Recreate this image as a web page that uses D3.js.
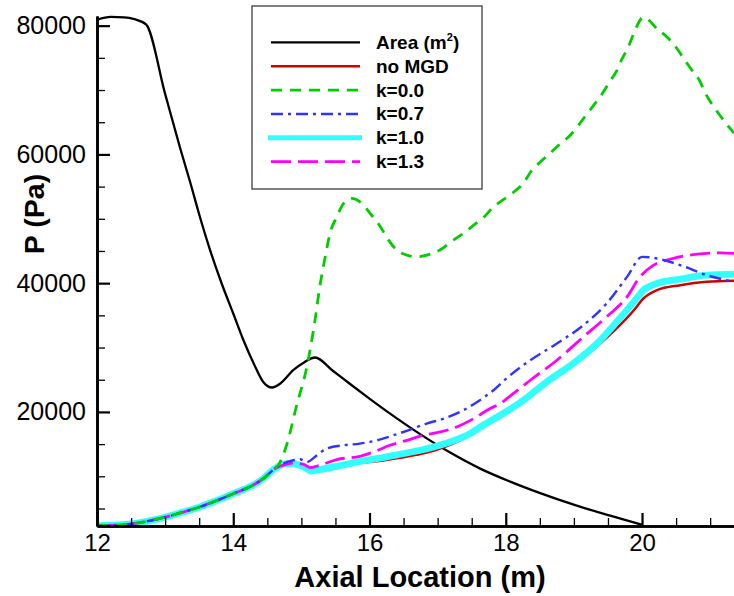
<!DOCTYPE html>
<html><head><meta charset="utf-8">
<script src="https://cdn.jsdelivr.net/npm/d3@7"></script>
<style>
body{margin:0;background:#fff;}
svg{display:block;font-family:"Liberation Sans",Arial,sans-serif;}
</style></head>
<body>
<svg id="chart" width="734" height="596"></svg>
<script>
// ---- data ----
const xTicks = [12, 14, 16, 18, 20];
const yTicks = [20000, 40000, 60000, 80000];
const xMinor = [12.5, 13, 13.5, 14.5, 15, 15.5, 16.5, 17, 17.5, 18.5, 19, 19.5, 20.5, 21];
const yMinor = [5000, 10000, 15000, 25000, 30000, 35000, 45000, 50000, 55000, 65000, 70000, 75000];

const areaX = [12.0, 12.2, 12.4, 12.55, 12.72, 13.0, 13.22, 13.37, 13.51, 13.66, 13.83, 14.0, 14.15, 14.3, 14.44, 14.57, 14.69, 14.88, 15.05, 15.2, 15.466, 15.715, 16.009, 16.302, 16.743, 17.184, 17.624, 18.065, 18.505, 19.019, 19.533, 20.0];
const areaY = [80900, 81350, 81300, 81000, 80200, 69400, 61000, 55600, 50310, 45130, 39950, 35290, 31140, 27520, 24660, 23790, 24410, 26480, 27770, 28450, 26355, 24335, 22000, 19740, 16555, 13680, 11190, 9170, 7380, 5515, 3880, 2480];

// shared inlet part of all pressure curves
const sharedX = [12.0, 12.25, 12.5, 12.75, 13.0, 13.25, 13.5, 13.75, 14.0, 14.25, 14.44, 14.61];
const sharedY = [2350, 2400, 2600, 3050, 3650, 4400, 5200, 6200, 7300, 8400, 9640, 11200];

const noMgdX = [14.79, 14.88, 14.98, 15.08, 15.13, 15.27, 15.52, 15.71, 15.96, 16.2, 16.45, 16.69, 16.94, 17.18, 17.43, 17.67, 17.92, 18.26, 18.6, 18.99, 19.34, 19.63, 19.88, 20.02, 20.22, 20.56, 20.95, 21.35];
const noMgdY = [11970, 11970, 11710, 11200, 10820, 11040, 11550, 11870, 12190, 12460, 12870, 13330, 13960, 14880, 16170, 17800, 19350, 21700, 24500, 27300, 30200, 33000, 35800, 37620, 38915, 39690, 40210, 40360];

const k00X = [14.66, 14.79, 14.93, 15.08, 15.2, 15.27, 15.35, 15.42, 15.52, 15.62, 15.74, 15.86, 16.01, 16.16, 16.28, 16.4, 16.55, 16.69, 16.89, 17.04, 17.23, 17.38, 17.53, 17.67, 17.82, 17.97, 18.14, 18.26, 18.38, 18.51, 18.65, 18.78, 18.95, 19.07, 19.19, 19.3, 19.42, 19.51, 19.63, 19.7, 19.8, 19.88, 20.02, 20.24, 20.37, 20.51, 20.61, 20.73, 20.84, 20.92, 21.14, 21.35];
const k00Y = [11710, 15085, 21000, 26990, 34250, 39430, 44090, 47730, 50310, 52390, 53170, 52640, 50840, 48755, 46690, 45130, 44355, 44090, 44500, 45200, 46690, 47730, 49020, 50150, 51860, 53010, 54350, 55550, 57500, 58860, 60170, 61455, 63010, 64565, 66270, 67780, 69490, 71045, 73005, 74670, 76735, 78820, 81305, 79330, 78200, 76490, 74930, 73115, 71560, 69740, 66120, 63320];

const k07X = [14.74, 14.88, 14.98, 15.08, 15.23, 15.37, 15.62, 15.86, 16.11, 16.35, 16.6, 16.84, 17.09, 17.33, 17.58, 17.82, 18.02, 18.36, 18.75, 19.14, 19.48, 19.78, 20.0, 20.22, 20.56, 20.95, 21.35];
const k07Y = [12000, 12490, 12650, 12230, 13270, 14300, 14820, 15080, 15590, 16370, 17260, 18190, 18970, 20000, 21550, 23370, 25300, 28030, 30630, 33470, 36850, 40980, 44090, 43840, 42800, 41245, 40210];

const k10X = [14.79, 14.88, 14.98, 15.08, 15.13, 15.27, 15.52, 15.71, 15.96, 16.2, 16.45, 16.69, 16.94, 17.18, 17.43, 17.67, 17.92, 18.26, 18.6, 18.99, 19.34, 19.63, 19.88, 20.02, 20.22, 20.56, 20.95, 21.35];
const k10Y = [11970, 11970, 11710, 11200, 10820, 11040, 11550, 11970, 12490, 12910, 13420, 13930, 14560, 15330, 16370, 17930, 19480, 21815, 24660, 27520, 30630, 33990, 37090, 38915, 39955, 40620, 41245, 41400];

const k13X = [14.79, 14.88, 15.03, 15.13, 15.27, 15.52, 15.86, 16.06, 16.3, 16.55, 16.79, 17.04, 17.28, 17.53, 17.77, 17.92, 18.02, 18.36, 18.75, 19.14, 19.48, 19.78, 19.97, 20.17, 20.46, 20.81, 21.15, 21.35];
const k13Y = [11900, 12070, 11860, 11350, 11710, 12600, 13110, 13780, 14820, 15590, 16370, 16890, 17660, 18970, 20520, 21300, 22100, 24920, 28030, 31655, 34765, 37870, 40980, 42800, 43840, 44510, 44720, 44620];

const seriesNames = ["Area (m2)", "no MGD", "k=0.0", "k=0.7", "k=1.0", "k=1.3"];

// ---- build ----
const zip = (xs, ys) => xs.map((v, i) => [v, ys[i]]);
const withShared = (xs, ys) => zip(sharedX, sharedY).concat(zip(xs, ys));

const series = [
  {name: seriesNames[0], pts: zip(areaX, areaY), color: "#000000", w: 2.3, dash: null},
  {name: seriesNames[1], pts: withShared(noMgdX, noMgdY), color: "#cc0000", w: 2.5, dash: null},
  {name: seriesNames[2], pts: withShared(k00X, k00Y), color: "#00cc00", w: 2.8, dash: "11,8"},
  {name: seriesNames[3], pts: withShared(k07X, k07Y), color: "#3333ff", w: 2.4, dash: "12,5,3,5"},
  {name: seriesNames[4], pts: withShared(k10X, k10Y), color: "#33ffff", w: 6.8, dash: null},
  {name: seriesNames[5], pts: withShared(k13X, k13Y), color: "#ff00ff", w: 2.8, dash: "20,7"}
];
const drawOrder = [0, 1, 4, 5, 3, 2];

const svg = d3.select("#chart");
const x = d3.scaleLinear().domain([12, 21.35]).range([97, 734]);
const y = d3.scaleLinear().domain([2280, 81500]).range([526, 16]);

svg.append("defs").append("clipPath").attr("id", "clip")
  .append("rect").attr("x", 97).attr("y", 14).attr("width", 640).attr("height", 512);

const line = d3.line().x(d => x(d[0])).y(d => y(d[1])).curve(d3.curveMonotoneX);
const plot = svg.append("g").attr("clip-path", "url(#clip)");
drawOrder.forEach(i => {
  const s = series[i];
  plot.append("path").datum(s.pts)
    .attr("d", line).attr("fill", "none")
    .attr("stroke", s.color).attr("stroke-width", s.w)
    .attr("stroke-dasharray", s.dash)
    .attr("stroke-linejoin", "round");
});

// axes
const yMinorAxis = svg.append("g").attr("transform", "translate(97,0)")
  .call(d3.axisLeft(y).tickValues(yMinor).tickSize(-8).tickSizeOuter(0).tickFormat(""));
const yAxis = svg.append("g").attr("transform", "translate(97,0)")
  .call(d3.axisLeft(y).tickValues(yTicks).tickSize(-13).tickSizeOuter(0).tickPadding(11).tickFormat(d3.format("d")));
const xMinorAxis = svg.append("g").attr("transform", "translate(0,526)")
  .call(d3.axisBottom(x).tickValues(xMinor).tickSize(-8).tickSizeOuter(0).tickFormat(""));
const xAxis = svg.append("g").attr("transform", "translate(0,526)")
  .call(d3.axisBottom(x).tickValues(xTicks).tickSize(-13).tickSizeOuter(0).tickPadding(8).tickFormat(d3.format("d")));

[yMinorAxis, yAxis, xMinorAxis, xAxis].forEach(g => {
  g.select(".domain").attr("stroke", "#000").attr("stroke-width", 2.6);
  g.selectAll(".tick line").attr("stroke", "#000");
  g.selectAll("text").attr("font-family", "Liberation Sans, Arial, sans-serif").attr("fill", "#000");
});
yMinorAxis.selectAll(".tick line").attr("stroke-width", 1.3);
xMinorAxis.selectAll(".tick line").attr("stroke-width", 1.3);
yAxis.selectAll(".tick line").attr("stroke-width", 2.2);
xAxis.selectAll(".tick line").attr("stroke-width", 2.2);
yAxis.selectAll("text").attr("font-size", 25);
xAxis.selectAll("text").attr("font-size", 24);

// axis titles
svg.append("text").attr("x", 420).attr("y", 587).attr("text-anchor", "middle")
  .attr("font-size", 29).attr("font-weight", "bold").text("Axial Location (m)");
svg.append("text").attr("transform", "translate(44,214) rotate(-90)").attr("text-anchor", "middle")
  .attr("font-size", 28.5).attr("font-weight", "bold").text("P (Pa)");

// legend
const lg = svg.append("g");
lg.append("rect").attr("x", 252).attr("y", 6).attr("width", 230).attr("height", 183)
  .attr("fill", "#fff").attr("stroke", "#555").attr("stroke-width", 1.5);
const rowY = d3.scaleLinear().domain([0, 5]).range([42.3, 161.7]);
series.forEach((s, i) => {
  const ry = rowY(i);
  lg.append("line").attr("x1", s.w > 5 ? 268 : 271).attr("x2", s.w > 5 ? 362 : 360)
    .attr("y1", ry).attr("y2", ry)
    .attr("stroke", s.color).attr("stroke-width", s.w > 5 ? 5 : s.w)
    .attr("stroke-dasharray", s.dash);
  const t = lg.append("text").attr("x", 376).attr("y", ry + 6.5)
    .attr("font-size", 19).attr("font-weight", "bold");
  if (i === 0) {
    t.append("tspan").text("Area (m");
    t.append("tspan").attr("font-size", 11).attr("dy", -8).text("2");
    t.append("tspan").attr("dy", 8).text(")");
  } else {
    t.text(s.name);
  }
});
</script>
</body></html>
